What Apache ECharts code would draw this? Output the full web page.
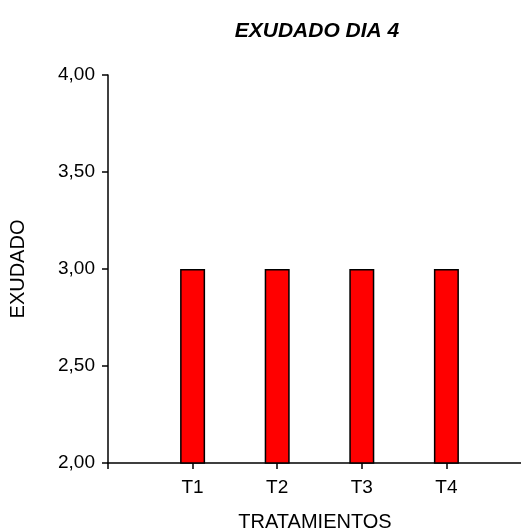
<!DOCTYPE html>
<html>
<head>
<meta charset="utf-8">
<script src="https://cdn.jsdelivr.net/npm/echarts@6/dist/echarts.min.js"></script>
<style>
  html, body { margin: 0; padding: 0; background: #fff; }
  #chart { width: 521px; height: 531px; }
</style>
</head>
<body>
<div id="chart"></div>
<script>
// treatments and the mean exudate on day 4
var categories = ['T1', 'T2', 'T3', 'T4'];
var values = [3.0, 3.0, 3.0, 3.0];
var yTicks = [2.0, 2.5, 3.0, 3.5, 4.0];

var font = 'Arial, "Liberation Sans", sans-serif';

// x is a value axis (0..5) so the treatments sit at 1..4 like the original
var barData = categories.map(function (c, i) {
  return [i + 1, values[i]];
});

var chart = echarts.init(document.getElementById('chart'));

var option = {
  backgroundColor: '#fff',
  animation: false,
  title: {
    text: 'EXUDADO DIA 4',
    left: 312,
    textAlign: 'center',
    top: 16,
    textStyle: {
      fontFamily: font,
      fontSize: 21,
      fontWeight: 'bold',
      fontStyle: 'italic',
      color: '#000'
    }
  },
  grid: {
    left: 108,
    top: 75,
    width: 423,
    bottom: 68,
    outerBoundsMode: 'none'
  },
  xAxis: {
    type: 'value',
    min: 0,
    max: 5,
    interval: 1,
    name: 'TRATAMIENTOS',
    nameLocation: 'middle',
    nameGap: 49,
    nameTextStyle: {
      fontFamily: font,
      fontSize: 20,
      color: '#000',
      padding: [0, 9, 0, 0]
    },
    splitLine: { show: false },
    axisLine: { lineStyle: { color: '#000', width: 1.5 } },
    axisTick: { length: 6, lineStyle: { color: '#000', width: 1.5 } },
    axisLabel: {
      fontFamily: font,
      fontSize: 19,
      color: '#000',
      margin: 15,
      formatter: function (v) {
        return categories[v - 1] || '';
      }
    }
  },
  yAxis: {
    type: 'value',
    min: yTicks[0],
    max: yTicks[yTicks.length - 1],
    interval: 0.5,
    name: 'EXUDADO',
    nameLocation: 'middle',
    nameGap: 80,
    nameTextStyle: {
      fontFamily: font,
      fontSize: 20,
      color: '#000'
    },
    splitLine: { show: false },
    axisLine: { show: true, lineStyle: { color: '#000', width: 1.5 } },
    axisTick: { show: true, length: 6, lineStyle: { color: '#000', width: 1.5 } },
    axisLabel: {
      fontFamily: font,
      fontSize: 19,
      color: '#000',
      margin: 13,
      formatter: function (v) {
        return v.toFixed(2).replace('.', ',');
      }
    }
  },
  series: [
    {
      type: 'bar',
      data: barData,
      barWidth: 25,
      itemStyle: {
        color: '#ff0000',
        borderColor: '#000',
        borderWidth: 1.5
      }
    }
  ]
};

chart.setOption(option);
</script>
</body>
</html>
